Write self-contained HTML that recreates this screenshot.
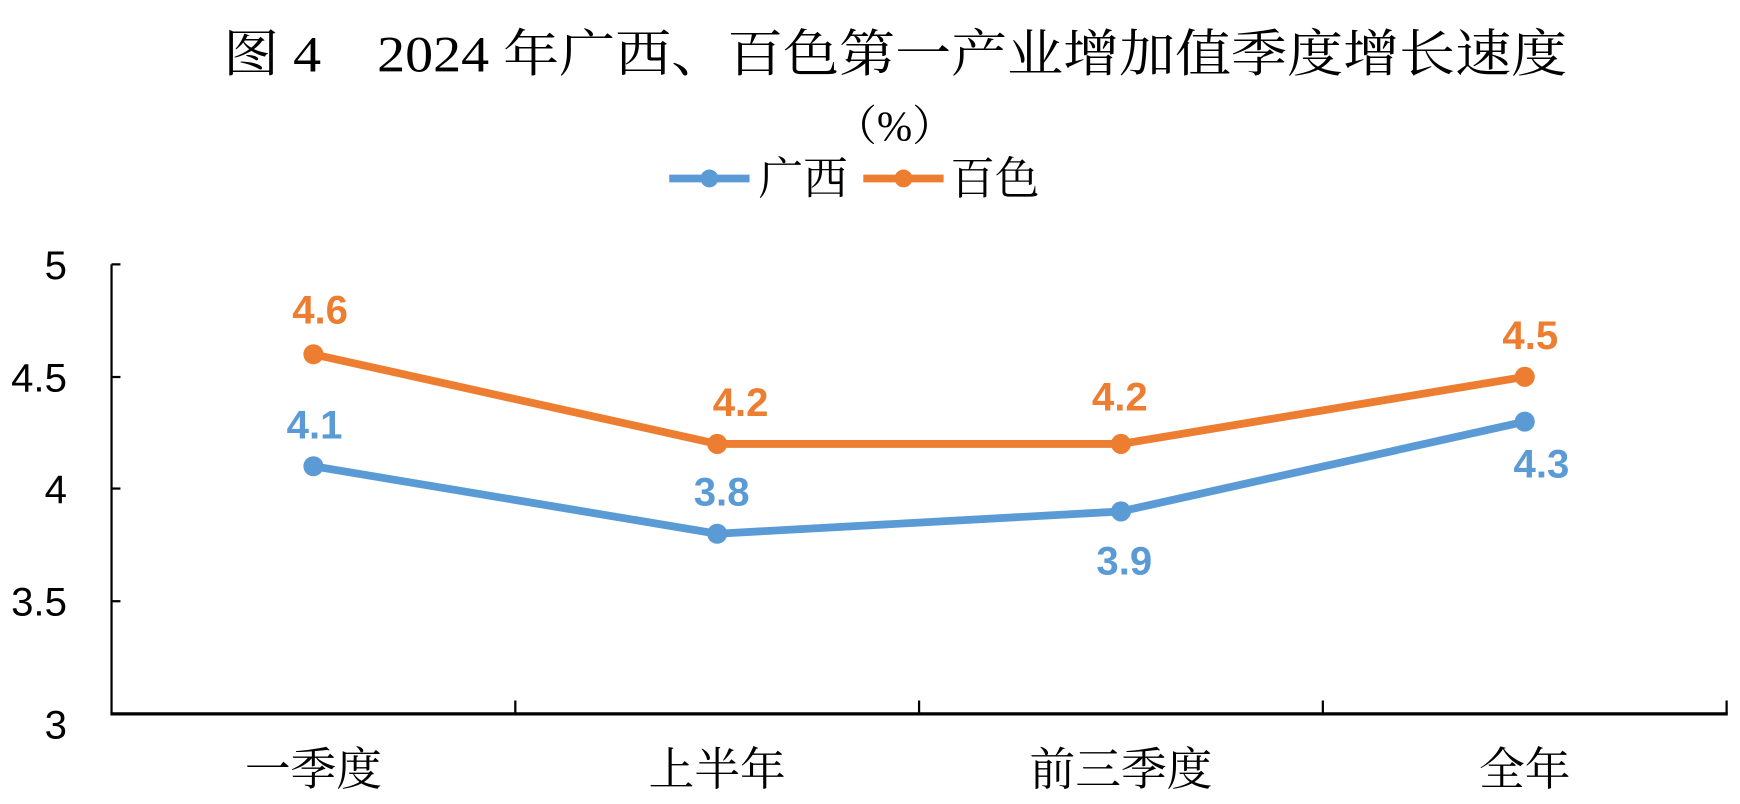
<!DOCTYPE html>
<html><head><meta charset="utf-8"><style>html,body{margin:0;padding:0;background:#fff}svg{display:block}</style></head>
<body>
<svg width="1740" height="804" viewBox="0 0 1560 720.8" preserveAspectRatio="none" xmlns="http://www.w3.org/2000/svg">
<rect width="1560" height="721" fill="#fff"/>
<g font-family="'Liberation Serif','Noto Serif CJK SC',serif" fill="#000">
<text x="200" y="64" font-size="46" textLength="1205" lengthAdjust="spacingAndGlyphs">图 4　2024 年广西、百色第一产业增加值季度增长速度</text>
<text x="802" y="126" font-size="38" text-anchor="middle">（%）</text>
<text x="680" y="174" font-size="40">广西</text>
<text x="852" y="174" font-size="40">百色</text>
</g>
<line x1="600" y1="160" x2="672" y2="160" stroke="#5B9BD5" stroke-width="7"/>
<circle cx="636" cy="160" r="8" fill="#5B9BD5"/>
<line x1="774" y1="160" x2="846" y2="160" stroke="#ED7D31" stroke-width="7"/>
<circle cx="810" cy="160" r="8" fill="#ED7D31"/>
<g stroke="#000" stroke-width="2">
<line x1="100" y1="237" x2="100" y2="640"/>
<line x1="100" y1="237" x2="108" y2="237"/>
<line x1="100" y1="338" x2="108" y2="338"/>
<line x1="100" y1="438" x2="108" y2="438"/>
<line x1="100" y1="539" x2="108" y2="539"/>
<line x1="462" y1="628" x2="462" y2="640"/>
<line x1="824" y1="628" x2="824" y2="640"/>
<line x1="1186" y1="628" x2="1186" y2="640"/>
<line x1="1548" y1="628" x2="1548" y2="640"/>
</g>
<line x1="99" y1="640" x2="1549" y2="640" stroke="#000" stroke-width="3"/>
<g font-family="'Liberation Sans Narrow','Liberation Sans','DejaVu Sans',sans-serif" font-size="36" fill="#000" text-anchor="end">
<text x="60" y="250">5</text>
<text x="60" y="351">4.5</text>
<text x="60" y="451">4</text>
<text x="60" y="552">3.5</text>
<text x="60" y="662">3</text>
</g>
<g font-family="'Liberation Serif','Noto Serif CJK SC',serif" font-size="41" fill="#000" text-anchor="middle">
<text x="281" y="704">一季度</text>
<text x="643" y="704">上半年</text>
<text x="1005" y="704">前三季度</text>
<text x="1367" y="704">全年</text>
</g>
<polyline points="281,317.6 643,398 1005,398 1367,337.8" fill="none" stroke="#ED7D31" stroke-width="7" stroke-linejoin="round"/>
<polyline points="281,418 643,478.5 1005,458.5 1367,378" fill="none" stroke="#5B9BD5" stroke-width="7" stroke-linejoin="round"/>
<g fill="#ED7D31"><circle cx="281" cy="317.6" r="9"/><circle cx="643" cy="398" r="9"/><circle cx="1005" cy="398" r="9"/><circle cx="1367" cy="337.8" r="9"/></g>
<g fill="#5B9BD5"><circle cx="281" cy="418" r="9"/><circle cx="643" cy="478.5" r="9"/><circle cx="1005" cy="458.5" r="9"/><circle cx="1367" cy="378" r="9"/></g>
<g font-family="'Liberation Sans Narrow','Liberation Sans','DejaVu Sans',sans-serif" font-size="36" font-weight="bold" text-anchor="middle">
<g fill="#ED7D31">
<text x="287" y="290">4.6</text>
<text x="664" y="373">4.2</text>
<text x="1004" y="368">4.2</text>
<text x="1372" y="313">4.5</text>
</g>
<g fill="#5B9BD5">
<text x="282" y="393">4.1</text>
<text x="647" y="453">3.8</text>
<text x="1008" y="515">3.9</text>
<text x="1382" y="428">4.3</text>
</g>
</g>
</svg>
</body></html>
